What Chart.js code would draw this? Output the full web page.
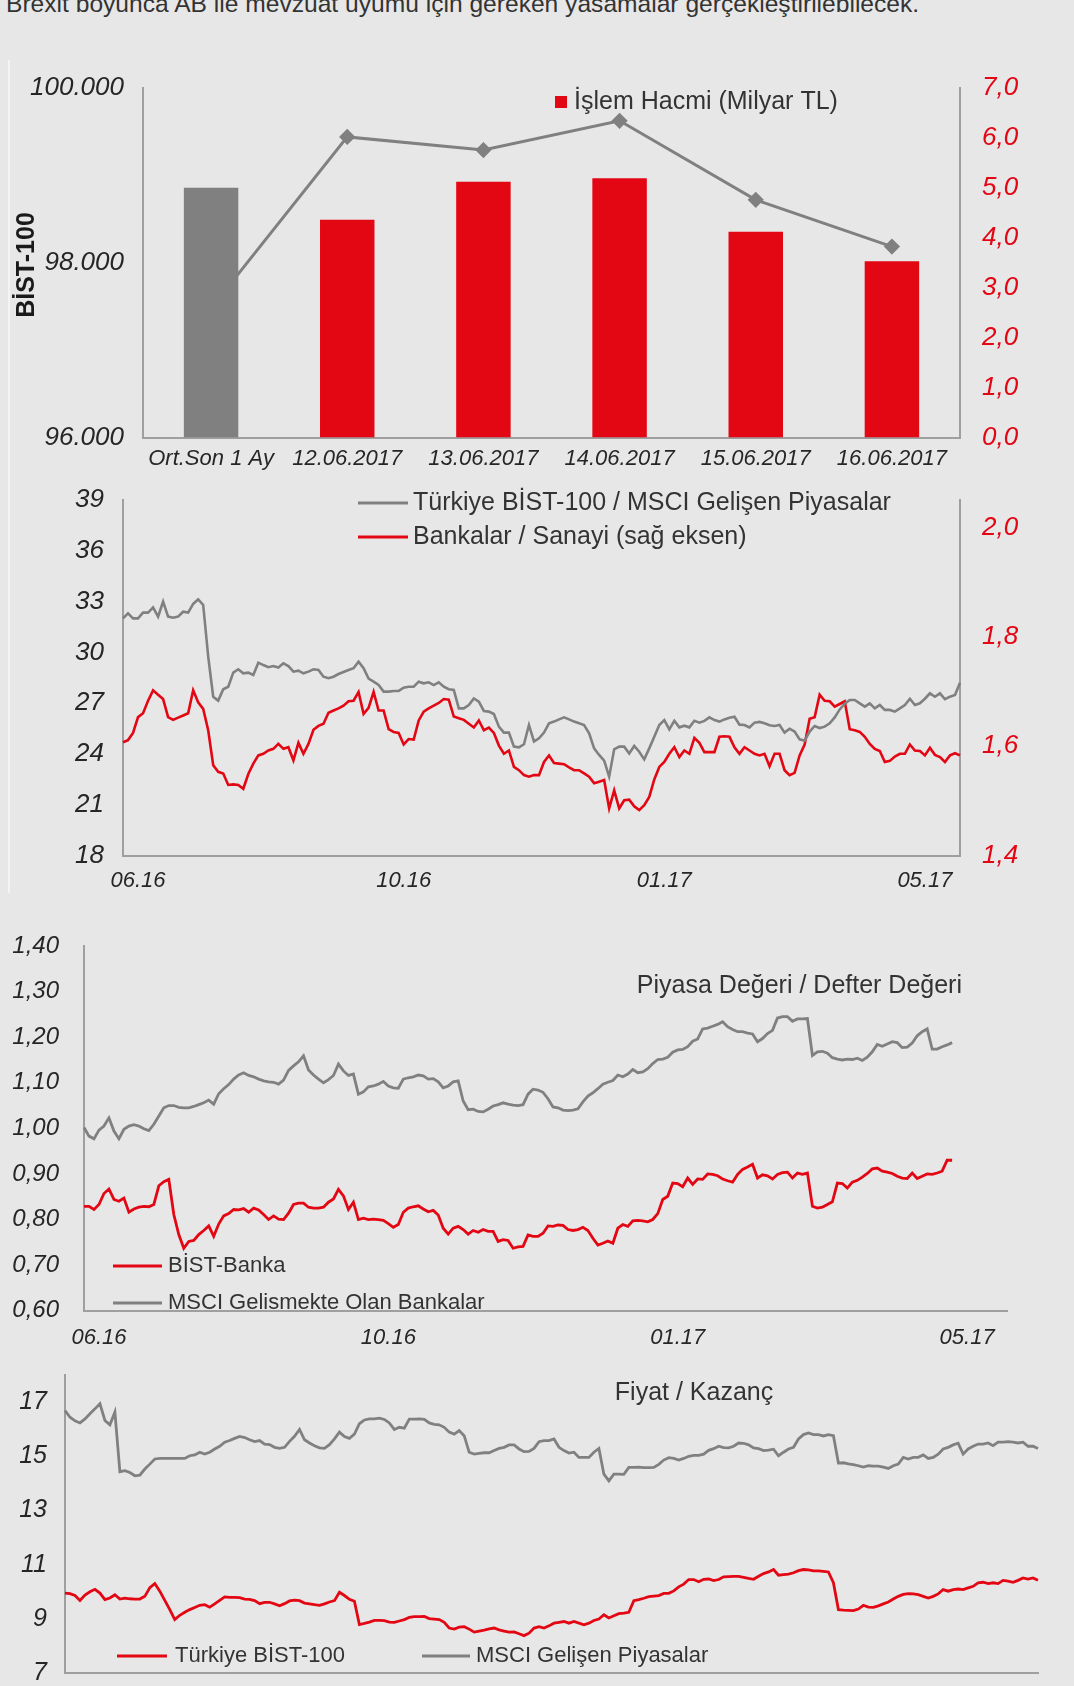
<!DOCTYPE html>
<html><head><meta charset="utf-8">
<script src="https://cdn.jsdelivr.net/npm/chart.js@4.4.1/dist/chart.umd.min.js"></script>
<style>
html,body{margin:0;padding:0;background:#e7e7e7;width:1074px;height:1686px;overflow:hidden;}
body{position:relative;font-family:'Liberation Sans',Arial,sans-serif;}
#topline{position:absolute;left:6px;top:-8px;font-size:24.6px;line-height:24px;color:#333;white-space:nowrap;}
canvas{position:absolute;left:0;}
#edge{position:absolute;left:8px;top:60px;width:2px;height:833px;background:#f4f4f4;}
</style></head><body>
<div id="topline">Brexit boyunca AB ile mevzuat uyumu için gereken yasamalar gerçekleştirilebilecek.</div>
<div id="edge"></div>
<canvas id="c1" width="1074" height="440" style="top:40px"></canvas>
<canvas id="c2" width="1074" height="425" style="top:480px"></canvas>
<canvas id="c3" width="1074" height="455" style="top:905px"></canvas>
<canvas id="c4" width="1074" height="326" style="top:1360px"></canvas>
<script>
// ---------- DATA ----------
// Chart 1: BIST-100 & trading volume
const volCategories = ['Ort.Son 1 Ay','12.06.2017','13.06.2017','14.06.2017','15.06.2017','16.06.2017'];
const islemHacmi = [5.0, 4.36, 5.12, 5.19, 4.12, 3.53];           // Milyar TL (right axis)
const bist100 = [97480, 99440, 99290, 99625, 98720, 98185];      // left axis
const volLeftTicks = [96000, 98000, 100000];

// Chart 2: BIST-100/MSCI EM & Banks/Industry (daily, 06.16-05.17)
const relTickLabels = ['06.16','10.16','01.17','05.17'];
const relTickIdx = [3, 56, 108, 160];
const bistMsciRatio = [
32.01,32.30,32.01,32.01,32.35,32.35,32.66,32.11,33.0,32.11,
32.05,32.11,32.40,32.35,32.86,33.13,32.80,29.75,27.38,27.15,
27.82,27.97,28.80,29.0,28.76,28.80,28.66,29.39,29.25,29.12,
29.19,29.10,29.35,29.19,28.86,28.92,28.76,28.86,29.0,28.96,
28.56,28.47,28.56,28.72,28.84,28.96,29.06,29.45,29.06,28.45,
28.27,28.07,27.68,27.68,27.72,27.72,27.91,27.97,27.97,28.27,
28.17,28.23,28.07,28.23,27.97,27.82,27.78,26.69,26.69,26.89,
27.28,27.09,26.54,26.50,26.36,25.61,25.26,25.26,24.43,24.39,
24.57,25.71,24.73,24.92,25.26,25.81,
25.91,26.04,26.16,26.04,25.91,25.81,25.71,25.22,24.33,23.94,
23.60,22.66,24.27,24.43,24.43,24.03,24.47,24.13,23.68,24.33,
25.02,25.71,26.0,25.45,25.96,25.57,25.67,25.57,25.96,25.85,
25.95,26.16,26.0,25.91,26.04,26.14,26.20,25.73,25.71,25.57,
25.85,25.89,25.81,25.69,25.65,25.71,25.26,25.49,25.32,24.86,
24.78,25.32,25.65,25.53,25.61,25.81,26.16,26.63,26.97,27.19,
27.19,26.99,26.79,26.99,26.69,26.89,26.60,26.60,26.50,26.69,
26.89,27.26,26.89,26.99,27.26,27.58,27.38,27.58,27.23,27.38,
27.48,28.21];
const bankSanayiRatio = [
1.607,1.611,1.624,1.653,1.660,1.683,1.702,1.694,1.686,1.653,
1.648,1.652,1.656,1.660,1.702,1.680,1.668,1.629,1.565,1.553,
1.550,1.529,1.530,1.529,1.522,1.549,1.568,1.583,1.586,1.592,
1.595,1.604,1.595,1.598,1.574,1.606,1.586,1.604,1.630,1.637,
1.641,1.661,1.665,1.669,1.674,1.682,1.683,1.699,1.659,1.670,
1.699,1.665,1.665,1.631,1.626,1.624,1.603,1.613,1.612,1.647,
1.663,1.669,1.674,1.679,1.686,1.685,1.654,1.651,1.648,1.641,
1.634,1.647,1.629,1.634,1.624,1.601,1.586,1.592,1.562,1.556,
1.547,1.544,1.547,1.547,1.571,1.583,
1.569,1.568,1.567,1.561,1.556,1.556,1.550,1.544,1.532,1.535,
1.538,1.486,1.519,1.486,1.501,1.502,1.490,1.483,1.492,1.507,
1.539,1.562,1.571,1.586,1.598,1.580,1.592,1.586,1.615,1.606,
1.589,1.589,1.589,1.617,1.618,1.617,1.598,1.586,1.598,1.592,
1.586,1.583,1.586,1.563,1.586,1.586,1.556,1.547,1.551,1.583,
1.603,1.650,1.653,1.694,1.683,1.682,1.672,1.677,1.682,1.631,
1.629,1.626,1.617,1.604,1.595,1.591,1.571,1.573,1.581,1.586,
1.586,1.603,1.592,1.591,1.583,1.597,1.584,1.580,1.571,1.583,
1.587,1.583];
const relLeftRange = [18, 39];
const relRightTicks = [1.4, 1.6, 1.8, 2.0];

// Chart 3: Price / Book (daily); axis runs past the last observation
const pbTickLabels = ['06.16','10.16','01.17','05.17'];
const pbTickIdx = [3, 61, 119, 177];
const pbAxisLength = 186;
const bistBankaPB = [
0.829,0.829,0.822,0.833,0.857,0.867,0.844,0.840,0.847,0.816,
0.823,0.827,0.829,0.828,0.833,0.874,0.883,0.888,0.811,0.767,
0.737,0.752,0.754,0.767,0.776,0.786,0.763,0.790,0.808,0.813,
0.822,0.821,0.824,0.816,0.825,0.821,0.811,0.800,0.808,0.801,
0.800,0.814,0.833,0.836,0.836,0.827,0.825,0.825,0.827,0.838,
0.845,0.866,0.852,0.822,0.838,0.800,0.803,0.800,0.801,0.800,
0.798,0.791,0.783,0.789,0.816,0.825,0.828,0.830,0.823,0.817,
0.820,0.810,0.781,0.768,0.781,0.785,0.778,0.768,0.776,0.772,
0.778,0.774,0.774,0.752,0.756,0.754,0.737,0.740,0.741,0.766,
0.763,0.763,0.770,0.786,0.785,0.788,0.787,0.778,0.776,0.778,
0.783,0.776,0.759,0.744,0.748,0.753,0.748,0.781,0.789,0.785,
0.797,0.798,0.797,0.795,0.800,0.813,0.844,0.851,0.880,0.879,
0.872,0.891,0.877,0.889,0.888,0.900,0.899,0.896,0.889,0.885,
0.882,0.899,0.910,0.915,0.921,0.891,0.898,0.896,0.889,0.899,
0.903,0.904,0.891,0.902,0.899,0.902,0.829,0.825,0.827,0.833,
0.839,0.880,0.879,0.869,0.882,0.886,0.893,0.901,0.911,0.913,
0.906,0.904,0.901,0.895,0.891,0.890,0.902,0.890,0.895,0.900,
0.899,0.902,0.906,0.930,0.930];
const msciEmBankPB = [
1.002,0.983,0.977,0.996,1.005,1.023,0.994,0.977,0.998,1.005,
1.008,1.005,0.999,0.995,1.009,1.027,1.045,1.050,1.050,1.046,
1.045,1.045,1.048,1.052,1.056,1.062,1.053,1.076,1.087,1.096,
1.108,1.117,1.122,1.116,1.113,1.108,1.104,1.102,1.101,1.097,
1.106,1.127,1.137,1.146,1.159,1.128,1.117,1.108,1.100,1.107,
1.116,1.141,1.126,1.116,1.119,1.075,1.080,1.091,1.093,1.097,
1.103,1.093,1.089,1.088,1.108,1.111,1.113,1.117,1.115,1.108,
1.109,1.102,1.089,1.093,1.102,1.104,1.060,1.041,1.042,1.037,
1.036,1.042,1.049,1.052,1.056,1.053,1.051,1.050,1.052,1.075,
1.086,1.084,1.079,1.065,1.047,1.045,1.040,1.039,1.040,1.043,
1.058,1.071,1.078,1.087,1.097,1.101,1.105,1.117,1.113,1.119,
1.129,1.122,1.124,1.131,1.142,1.151,1.152,1.156,1.167,1.172,
1.173,1.179,1.191,1.196,1.218,1.220,1.224,1.228,1.234,1.223,
1.217,1.212,1.212,1.209,1.207,1.190,1.197,1.208,1.215,1.242,
1.245,1.245,1.235,1.240,1.240,1.241,1.160,1.168,1.169,1.165,
1.155,1.152,1.150,1.152,1.151,1.154,1.149,1.156,1.168,1.184,
1.180,1.185,1.190,1.188,1.177,1.178,1.187,1.203,1.212,1.218,
1.174,1.174,1.179,1.183,1.188];
const pbRange = [0.6, 1.4];

// Chart 4: Price / Earnings (daily)
const bistPE = [
9.95,9.93,9.86,9.68,9.88,10.00,10.09,9.95,9.71,9.77,
9.89,9.73,9.76,9.74,9.73,9.73,9.83,10.15,10.30,10.02,
9.68,9.34,8.97,9.13,9.24,9.34,9.42,9.50,9.52,9.43,
9.55,9.68,9.81,9.79,9.79,9.78,9.73,9.72,9.67,9.56,
9.61,9.61,9.55,9.48,9.56,9.66,9.69,9.67,9.58,9.55,
9.52,9.50,9.55,9.62,9.67,9.98,9.86,9.72,9.65,8.79,
8.83,8.88,8.94,8.94,8.93,8.88,8.87,8.92,8.97,9.05,
9.08,9.08,9.09,9.01,8.99,8.97,8.87,8.66,8.62,8.69,
8.71,8.62,8.51,8.55,8.58,8.63,8.66,8.59,8.55,8.51,
8.52,8.45,8.38,8.47,8.66,8.71,8.66,8.74,8.84,8.87,
8.90,8.84,8.90,8.84,8.78,8.84,8.94,8.99,9.15,9.03,
9.11,9.19,9.21,9.24,9.67,9.71,9.76,9.82,9.84,9.86,
9.94,9.94,10.03,10.18,10.28,10.45,10.45,10.37,10.46,10.47,
10.41,10.45,10.55,10.56,10.57,10.57,10.53,10.49,10.46,10.57,
10.67,10.73,10.82,10.61,10.63,10.65,10.70,10.78,10.82,10.81,
10.77,10.77,10.75,10.73,10.33,9.34,9.32,9.31,9.30,9.36,
9.50,9.43,9.42,9.48,9.55,9.62,9.73,9.83,9.90,9.93,
9.92,9.89,9.83,9.77,9.83,9.92,10.08,10.02,10.08,10.10,
10.08,10.14,10.20,10.33,10.35,10.30,10.33,10.30,10.42,10.39,
10.35,10.42,10.51,10.47,10.51,10.42];
const msciEmPE = [
16.69,16.44,16.31,16.23,16.38,16.57,16.75,16.94,16.32,16.16,
16.63,14.43,14.47,14.40,14.28,14.30,14.53,14.71,14.90,14.92,
14.92,14.92,14.92,14.92,14.92,15.02,15.05,15.15,15.08,15.15,
15.27,15.37,15.52,15.58,15.66,15.73,15.69,15.61,15.54,15.58,
15.45,15.43,15.33,15.29,15.33,15.55,15.74,15.99,15.61,15.49,
15.39,15.31,15.29,15.43,15.64,15.89,15.73,15.66,15.82,16.20,
16.34,16.38,16.38,16.41,16.36,16.23,15.99,16.07,16.04,16.37,
16.37,16.38,16.36,16.23,16.18,16.16,16.07,15.89,15.82,15.95,
15.76,15.15,15.08,15.11,15.13,15.13,15.21,15.29,15.33,15.42,
15.42,15.27,15.17,15.18,15.29,15.54,15.58,15.58,15.64,15.33,
15.21,15.12,15.15,14.96,14.96,14.96,15.15,15.29,14.34,14.09,
14.34,14.34,14.33,14.59,14.59,14.60,14.58,14.58,14.59,14.70,
14.86,14.95,14.92,14.86,14.92,15.00,15.03,15.03,15.08,15.22,
15.28,15.37,15.32,15.31,15.37,15.49,15.48,15.42,15.31,15.28,
15.21,15.23,15.26,15.02,15.15,15.27,15.33,15.64,15.80,15.86,
15.80,15.80,15.75,15.80,15.76,14.75,14.76,14.72,14.69,14.65,
14.60,14.65,14.64,14.64,14.60,14.55,14.65,14.71,14.96,14.90,
14.96,14.96,15.05,14.92,14.96,15.08,15.27,15.33,15.42,15.48,
15.08,15.27,15.37,15.45,15.45,15.49,15.39,15.52,15.52,15.54,
15.52,15.49,15.52,15.37,15.37,15.29];
const peTicks = [7, 9, 11, 13, 15, 17];
const peRange = [7, 18];

// ---------- STYLE ----------
const FONT = "'Liberation Sans', Arial, sans-serif";
const RED = '#e30613';
const GRAY = '#808080';
const AXIS = '#9f9f9f';
const TXT = '#262626';
const LEG = '#333333';

const overlay = {
  id: 'overlay',
  afterDraw(chart, args, opts) {
    const ctx = chart.ctx;
    (opts.items || []).forEach(it => {
      ctx.save();
      const ds = it.ds !== undefined ? chart.data.datasets[it.ds] : null;
      if (it.kind === 'line') {
        ctx.strokeStyle = ds.borderColor; ctx.lineWidth = 3;
        ctx.beginPath(); ctx.moveTo(it.x1, it.y); ctx.lineTo(it.x2, it.y); ctx.stroke();
      } else if (it.kind === 'box') {
        ctx.fillStyle = it.color; ctx.fillRect(it.x1, it.y - it.size / 2, it.size, it.size);
      }
      const text = it.text || (ds && ds.label);
      ctx.font = it.font; ctx.fillStyle = it.color2 || LEG;
      ctx.textAlign = it.align || 'left'; ctx.textBaseline = 'middle';
      if (it.rot) { ctx.translate(it.tx, it.y); ctx.rotate(it.rot); ctx.fillText(text, 0, 0); }
      else ctx.fillText(text, it.tx, it.y);
      ctx.restore();
    });
  }
};

const tickFont = size => ({family: FONT, size, style: 'italic'});
const xFont = {family: FONT, size: 22, style: 'italic'};
const noGrid = {display: false, drawTicks: false};
const axisBorder = {display: true, color: AXIS, width: 2};
const comma = (v, d) => v.toFixed(d).replace('.', ',');
const dots = v => String(Math.round(v)).replace(/\B(?=(\d{3})+(?!\d))/g, '.');
const buildLabels = (n, idx, labs) => Array.from({length: n}, (_, i) => { const j = idx.indexOf(i); return j >= 0 ? labs[j] : ''; });
const fixW = w => s => { s.width = w; s.paddingTop = 0; s.paddingBottom = 0; };
const fixH = h => s => { s.height = h; s.paddingLeft = 0; s.paddingRight = 0; };
const base = (padding, items) => ({
  responsive: false, animation: false, devicePixelRatio: 1,
  layout: {padding, autoPadding: false},
  plugins: {legend: {display: false}, tooltip: {enabled: false}, overlay: {items}},
  elements: {point: {radius: 0}, line: {tension: 0}}
});

// ---------- CHART 1 ----------
new Chart(document.getElementById('c1'), {
  type: 'bar',
  plugins: [overlay],
  data: {
    labels: volCategories,
    datasets: [
      {type: 'bar', label: 'İşlem Hacmi (Milyar TL)', data: islemHacmi, yAxisID: 'y1',
       backgroundColor: islemHacmi.map((v, i) => i === 0 ? GRAY : RED),
       barPercentage: 0.4, categoryPercentage: 1, order: 0},
      {type: 'line', label: 'BİST-100', data: bist100, yAxisID: 'y', borderColor: GRAY, borderWidth: 3,
       pointStyle: 'rectRot', pointRadius: 6, pointBackgroundColor: GRAY, pointBorderColor: GRAY, order: 1}
    ]
  },
  options: Object.assign(base({top: 48, left: 0, right: 0, bottom: 0}, [
    {kind: 'box', color: RED, x1: 555, y: 62, size: 12, tx: 574, ds: 0, font: `25px ${FONT}`},
    {kind: 'text', text: 'BİST-100', tx: 27, y: 225, rot: -Math.PI / 2, align: 'center', font: `bold 25px ${FONT}`, color2: '#1a1a1a'}
  ]), {
    scales: {
      x: {grid: noGrid, border: axisBorder, ticks: {font: xFont, color: TXT, padding: 8, maxRotation: 0, autoSkip: false},
          afterFit: fixH(42.5)},
      y: {position: 'left', min: volLeftTicks[0], max: volLeftTicks[volLeftTicks.length - 1], grid: noGrid, border: axisBorder,
          afterBuildTicks: s => { s.ticks = volLeftTicks.map(v => ({value: v})); },
          ticks: {font: tickFont(26), color: TXT, padding: 19, callback: v => dots(v)},
          afterFit: fixW(143)},
      y1: {position: 'right', min: 0, max: 7, grid: noGrid, border: axisBorder,
           ticks: {stepSize: 1, font: tickFont(26), color: RED, padding: 22, callback: v => comma(v, 1)},
           afterFit: fixW(114)}
    }
  })
});

// ---------- CHART 2 ----------
const relLabels = buildLabels(bistMsciRatio.length, relTickIdx, relTickLabels);
new Chart(document.getElementById('c2'), {
  type: 'line',
  plugins: [overlay],
  data: {
    labels: relLabels,
    datasets: [
      {label: 'Türkiye BİST-100 / MSCI Gelişen Piyasalar', data: bistMsciRatio, yAxisID: 'y', borderColor: GRAY, borderWidth: 2.6},
      {label: 'Bankalar / Sanayi (sağ eksen)', data: bankSanayiRatio, yAxisID: 'y1', borderColor: RED, borderWidth: 2.6}
    ]
  },
  options: Object.assign(base({top: 20, left: 0, right: 0, bottom: 0}, [
    {kind: 'line', ds: 0, x1: 358, x2: 408, y: 23, tx: 413, font: `25px ${FONT}`},
    {kind: 'line', ds: 1, x1: 358, x2: 408, y: 57, tx: 413, font: `25px ${FONT}`}
  ]), {
    scales: {
      x: {grid: noGrid, border: axisBorder, offset: false,
          afterBuildTicks: s => { s.ticks = s.ticks.filter(t => relTickIdx.includes(t.value)); },
          ticks: {font: xFont, color: TXT, padding: 12, maxRotation: 0, autoSkip: false},
          afterFit: fixH(49.5)},
      y: {position: 'left', min: relLeftRange[0], max: relLeftRange[1], grid: noGrid, border: axisBorder,
          ticks: {stepSize: 3, font: tickFont(26), color: TXT, padding: 19},
          afterFit: fixW(123)},
      y1: {position: 'right', min: 1.4, max: 2.05, grid: noGrid, border: axisBorder,
           afterBuildTicks: s => { s.ticks = relRightTicks.map(v => ({value: v})); },
           ticks: {font: tickFont(26), color: RED, padding: 22, callback: v => comma(v, 1)},
           afterFit: fixW(114)}
    }
  })
});

// ---------- CHART 3 ----------
const pbLabels = buildLabels(pbAxisLength, pbTickIdx, pbTickLabels);
new Chart(document.getElementById('c3'), {
  type: 'line',
  plugins: [overlay],
  data: {
    labels: pbLabels,
    datasets: [
      {label: 'BİST-Banka', data: bistBankaPB, borderColor: RED, borderWidth: 2.8},
      {label: 'MSCI Gelismekte Olan Bankalar', data: msciEmBankPB, borderColor: GRAY, borderWidth: 2.8}
    ]
  },
  options: Object.assign(base({top: 41, left: 0, right: 67, bottom: 0}, [
    {kind: 'text', text: 'Piyasa Değeri / Defter Değeri', tx: 962, y: 81, align: 'right', font: `25px ${FONT}`},
    {kind: 'line', ds: 0, x1: 113, x2: 162, y: 361, tx: 168, font: `22px ${FONT}`},
    {kind: 'line', ds: 1, x1: 113, x2: 162, y: 398, tx: 168, font: `22px ${FONT}`}
  ]), {
    scales: {
      x: {grid: noGrid, border: axisBorder, offset: false,
          afterBuildTicks: s => { s.ticks = s.ticks.filter(t => pbTickIdx.includes(t.value)); },
          ticks: {font: xFont, color: TXT, padding: 14, maxRotation: 0, autoSkip: false},
          afterFit: fixH(49.3)},
      y: {position: 'left', min: pbRange[0], max: pbRange[1], grid: noGrid, border: axisBorder,
          ticks: {stepSize: 0.1, font: tickFont(24), color: TXT, padding: 25, callback: v => comma(v, 2)},
          afterFit: fixW(84)}
    }
  })
});

// ---------- CHART 4 ----------
new Chart(document.getElementById('c4'), {
  type: 'line',
  plugins: [overlay],
  data: {
    labels: bistPE.map(() => ''),
    datasets: [
      {label: 'Türkiye BİST-100', data: bistPE, borderColor: RED, borderWidth: 2.8},
      {label: 'MSCI Gelişen Piyasalar', data: msciEmPE, borderColor: GRAY, borderWidth: 2.8}
    ]
  },
  options: Object.assign(base({top: 15, left: 0, right: 36, bottom: 0}, [
    {kind: 'text', text: 'Fiyat / Kazanç', tx: 694, y: 33, align: 'center', font: `25px ${FONT}`},
    {kind: 'line', ds: 0, x1: 117, x2: 167, y: 296, tx: 175, font: `22px ${FONT}`},
    {kind: 'line', ds: 1, x1: 422, x2: 470, y: 296, tx: 476, font: `22px ${FONT}`}
  ]), {
    scales: {
      x: {grid: noGrid, border: axisBorder, offset: false, ticks: {display: false},
          afterFit: fixH(13)},
      y: {position: 'left', min: peRange[0], max: peRange[1], grid: noGrid, border: axisBorder,
          afterBuildTicks: s => { s.ticks = peTicks.map(v => ({value: v})); },
          ticks: {font: tickFont(25), color: TXT, padding: 18},
          afterFit: fixW(65)}
    }
  })
});
</script>
</body></html>
